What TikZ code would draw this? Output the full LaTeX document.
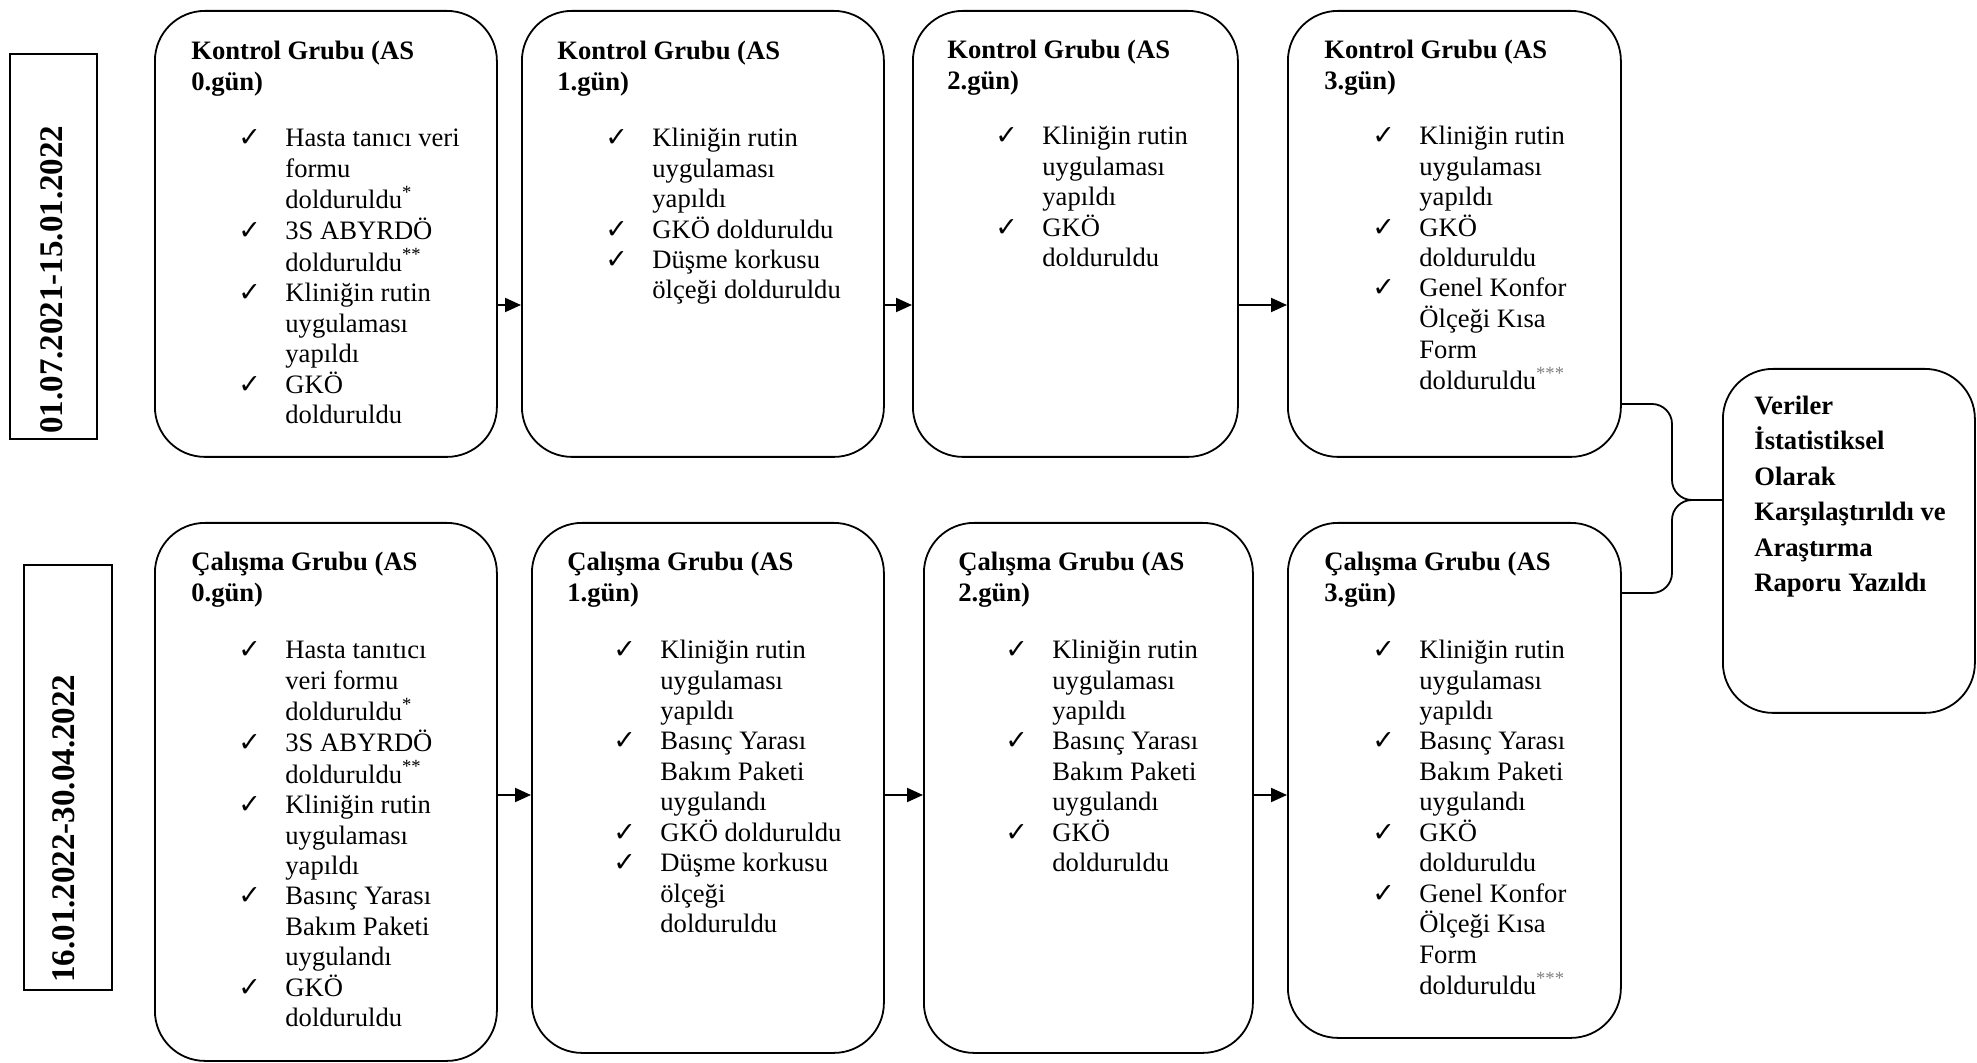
\documentclass[tikz,border=0pt]{standalone}
\usepackage{fontspec}
\setmainfont{Liberation Serif}
\newfontfamily\chkfont{DejaVu Sans}
\usetikzlibrary{arrows.meta,calc,positioning}
\newcommand{\chk}{{\chkfont\fontsize{13.5}{13.5}\selectfont ✓}}
\newcommand{\yld}[1]{\textsuperscript{#1}}
\tikzset{%
	grp/.style     = {draw, line width=0.9pt, rounded corners=25pt, anchor=north west, inner sep=0pt},
	datebox/.style = {draw, line width=1pt, anchor=north west, inner sep=0pt},
	datetxt/.style = {rotate=90, anchor=west, inner sep=0pt, font=\bfseries\fontsize{16.5}{16.5}\selectfont},
	ttl/.style     = {anchor=north west, inner sep=0pt, font=\bfseries\fontsize{13.3}{15.2}\selectfont},
	lst/.style     = {anchor=north west, inner sep=0pt, font=\fontsize{13.3}{15.2}\selectfont},
	fintxt/.style  = {anchor=north west, inner sep=0pt, font=\bfseries\fontsize{13.3}{17.75}\selectfont},
	arrow/.style   = {line width=1pt, -{Triangle[length=8pt,width=7pt]}},
	brc/.style     = {line width=0.9pt, rounded corners=10pt},
}
\begin{document}
\begin{tikzpicture}[x=0.5pt,y=-0.5pt]
	\useasboundingbox (0,0) rectangle (1977,1063);
	
	% date boxes
	\node[datebox, minimum width=43.5pt, minimum height=192.5pt] (d1) at (9,53) {};
	\node[datebox, minimum width=44pt, minimum height=212.5pt] (d2) at (23,564) {};
	\node[datetxt] (d1t) at ($(d1.south)+(-2,-6)$) {01.07.2021-15.01.2022};
	\node[datetxt] (d2t) at ($(d2.south)+(-4,-8)$) {16.01.2022-30.04.2022};
	
	% Kontrol Grubu
	\node[grp, minimum width=171pt, minimum height=223pt] (k0) at (154,10) {};
	\node[grp, minimum width=181pt, minimum height=223pt] (k1) at (521,10) {};
	\node[grp, minimum width=162.5pt, minimum height=223pt] (k2) at (912,10) {};
	\node[grp, minimum width=166.5pt, minimum height=223pt] (k3) at (1287,10) {};
	
	\node[ttl] (k0t) at ($(k0.north west)+(37,28)$) {\begin{tabular}{@{}l@{}}Kontrol Grubu (AS\\0.gün)\end{tabular}};
	\node[lst] (k0l) at ($(k0.north west)+(84,115)$) {\begin{tabular}{@{}p{23.5pt}@{}l@{}}
		\chk & Hasta tanıcı veri\\
		& formu\\
		& dolduruldu\yld{*}\\
		\chk & 3S ABYRDÖ\\
		& dolduruldu\yld{**}\\
		\chk & Kliniğin rutin\\
		& uygulaması\\
		& yapıldı\\
		\chk & GKÖ\\
		& dolduruldu
	\end{tabular}};
	
	\node[ttl] (k1t) at ($(k1.north west)+(36,28)$) {\begin{tabular}{@{}l@{}}Kontrol Grubu (AS\\1.gün)\end{tabular}};
	\node[lst] (k1l) at ($(k1.north west)+(84,115)$) {\begin{tabular}{@{}p{23.5pt}@{}l@{}}
		\chk & Kliniğin rutin\\
		& uygulaması\\
		& yapıldı\\
		\chk & GKÖ dolduruldu\\
		\chk & Düşme korkusu\\
		& ölçeği dolduruldu
	\end{tabular}};
	
	\node[ttl] (k2t) at ($(k2.north west)+(35,27)$) {\begin{tabular}{@{}l@{}}Kontrol Grubu (AS\\2.gün)\end{tabular}};
	\node[lst] (k2l) at ($(k2.north west)+(83,113)$) {\begin{tabular}{@{}p{23.5pt}@{}l@{}}
		\chk & Kliniğin rutin\\
		& uygulaması\\
		& yapıldı\\
		\chk & GKÖ\\
		& dolduruldu
	\end{tabular}};
	
	\node[ttl] (k3t) at ($(k3.north west)+(37,27)$) {\begin{tabular}{@{}l@{}}Kontrol Grubu (AS\\3.gün)\end{tabular}};
	\node[lst] (k3l) at ($(k3.north west)+(85,113)$) {\begin{tabular}{@{}p{23.5pt}@{}l@{}}
		\chk & Kliniğin rutin\\
		& uygulaması\\
		& yapıldı\\
		\chk & GKÖ\\
		& dolduruldu\\
		\chk & Genel Konfor\\
		& Ölçeği Kısa\\
		& Form\\
		& dolduruldu\yld{\textcolor{gray}{***}}
	\end{tabular}};
	
	% Calisma Grubu
	\node[grp, minimum width=171pt, minimum height=269pt] (c0) at (154,522) {};
	\node[grp, minimum width=176pt, minimum height=265pt] (c1) at (531,522) {};
	\node[grp, minimum width=164.5pt, minimum height=265pt] (c2) at (923,522) {};
	\node[grp, minimum width=166.5pt, minimum height=257.5pt] (c3) at (1287,522) {};
	
	\node[ttl] (c0t) at ($(c0.north west)+(37,27)$) {\begin{tabular}{@{}l@{}}Çalışma Grubu (AS\\0.gün)\end{tabular}};
	\node[lst] (c0l) at ($(c0.north west)+(84,115)$) {\begin{tabular}{@{}p{23.5pt}@{}l@{}}
		\chk & Hasta tanıtıcı\\
		& veri formu\\
		& dolduruldu\yld{*}\\
		\chk & 3S ABYRDÖ\\
		& dolduruldu\yld{**}\\
		\chk & Kliniğin rutin\\
		& uygulaması\\
		& yapıldı\\
		\chk & Basınç Yarası\\
		& Bakım Paketi\\
		& uygulandı\\
		\chk & GKÖ\\
		& dolduruldu
	\end{tabular}};
	
	\node[ttl] (c1t) at ($(c1.north west)+(36,27)$) {\begin{tabular}{@{}l@{}}Çalışma Grubu (AS\\1.gün)\end{tabular}};
	\node[lst] (c1l) at ($(c1.north west)+(82,115)$) {\begin{tabular}{@{}p{23.5pt}@{}l@{}}
		\chk & Kliniğin rutin\\
		& uygulaması\\
		& yapıldı\\
		\chk & Basınç Yarası\\
		& Bakım Paketi\\
		& uygulandı\\
		\chk & GKÖ dolduruldu\\
		\chk & Düşme korkusu\\
		& ölçeği\\
		& dolduruldu
	\end{tabular}};
	
	\node[ttl] (c2t) at ($(c2.north west)+(35,27)$) {\begin{tabular}{@{}l@{}}Çalışma Grubu (AS\\2.gün)\end{tabular}};
	\node[lst] (c2l) at ($(c2.north west)+(82,115)$) {\begin{tabular}{@{}p{23.5pt}@{}l@{}}
		\chk & Kliniğin rutin\\
		& uygulaması\\
		& yapıldı\\
		\chk & Basınç Yarası\\
		& Bakım Paketi\\
		& uygulandı\\
		\chk & GKÖ\\
		& dolduruldu
	\end{tabular}};
	
	\node[ttl] (c3t) at ($(c3.north west)+(37,27)$) {\begin{tabular}{@{}l@{}}Çalışma Grubu (AS\\3.gün)\end{tabular}};
	\node[lst] (c3l) at ($(c3.north west)+(85,115)$) {\begin{tabular}{@{}p{23.5pt}@{}l@{}}
		\chk & Kliniğin rutin\\
		& uygulaması\\
		& yapıldı\\
		\chk & Basınç Yarası\\
		& Bakım Paketi\\
		& uygulandı\\
		\chk & GKÖ\\
		& dolduruldu\\
		\chk & Genel Konfor\\
		& Ölçeği Kısa\\
		& Form\\
		& dolduruldu\yld{\textcolor{gray}{***}}
	\end{tabular}};
	
	% final box
	\node[grp, minimum width=126pt, minimum height=172pt] (fin) at (1722,368) {};
	\node[fintxt] (fint) at ($(fin.north west)+(32,21)$) {\begin{tabular}{@{}l@{}}
		Veriler\\
		İstatistiksel\\
		Olarak\\
		Karşılaştırıldı ve\\
		Araştırma\\
		Raporu Yazıldı
	\end{tabular}};
	
	% arrows
	\coordinate (ra) at (0,305);
	\coordinate (rb) at (0,795);
	\draw[arrow] (k0.east |- ra) -- (k1.west |- ra);
	\draw[arrow] (k1.east |- ra) -- (k2.west |- ra);
	\draw[arrow] (k2.east |- ra) -- (k3.west |- ra);
	\draw[arrow] (c0.east |- rb) -- (c1.west |- rb);
	\draw[arrow] (c1.east |- rb) -- (c2.west |- rb);
	\draw[arrow] (c2.east |- rb) -- (c3.west |- rb);
	
	% brace to final box
	\coordinate (bu) at (0,404);
	\coordinate (bl) at (0,593);
	\coordinate (bk) at (1672,500);
	\draw[brc] (k3.east |- bu) -| (bk) -- (fin.west |- bk);
	\draw[brc] (c3.east |- bl) -| (bk) -- (fin.west |- bk);
\end{tikzpicture}
\end{document}
